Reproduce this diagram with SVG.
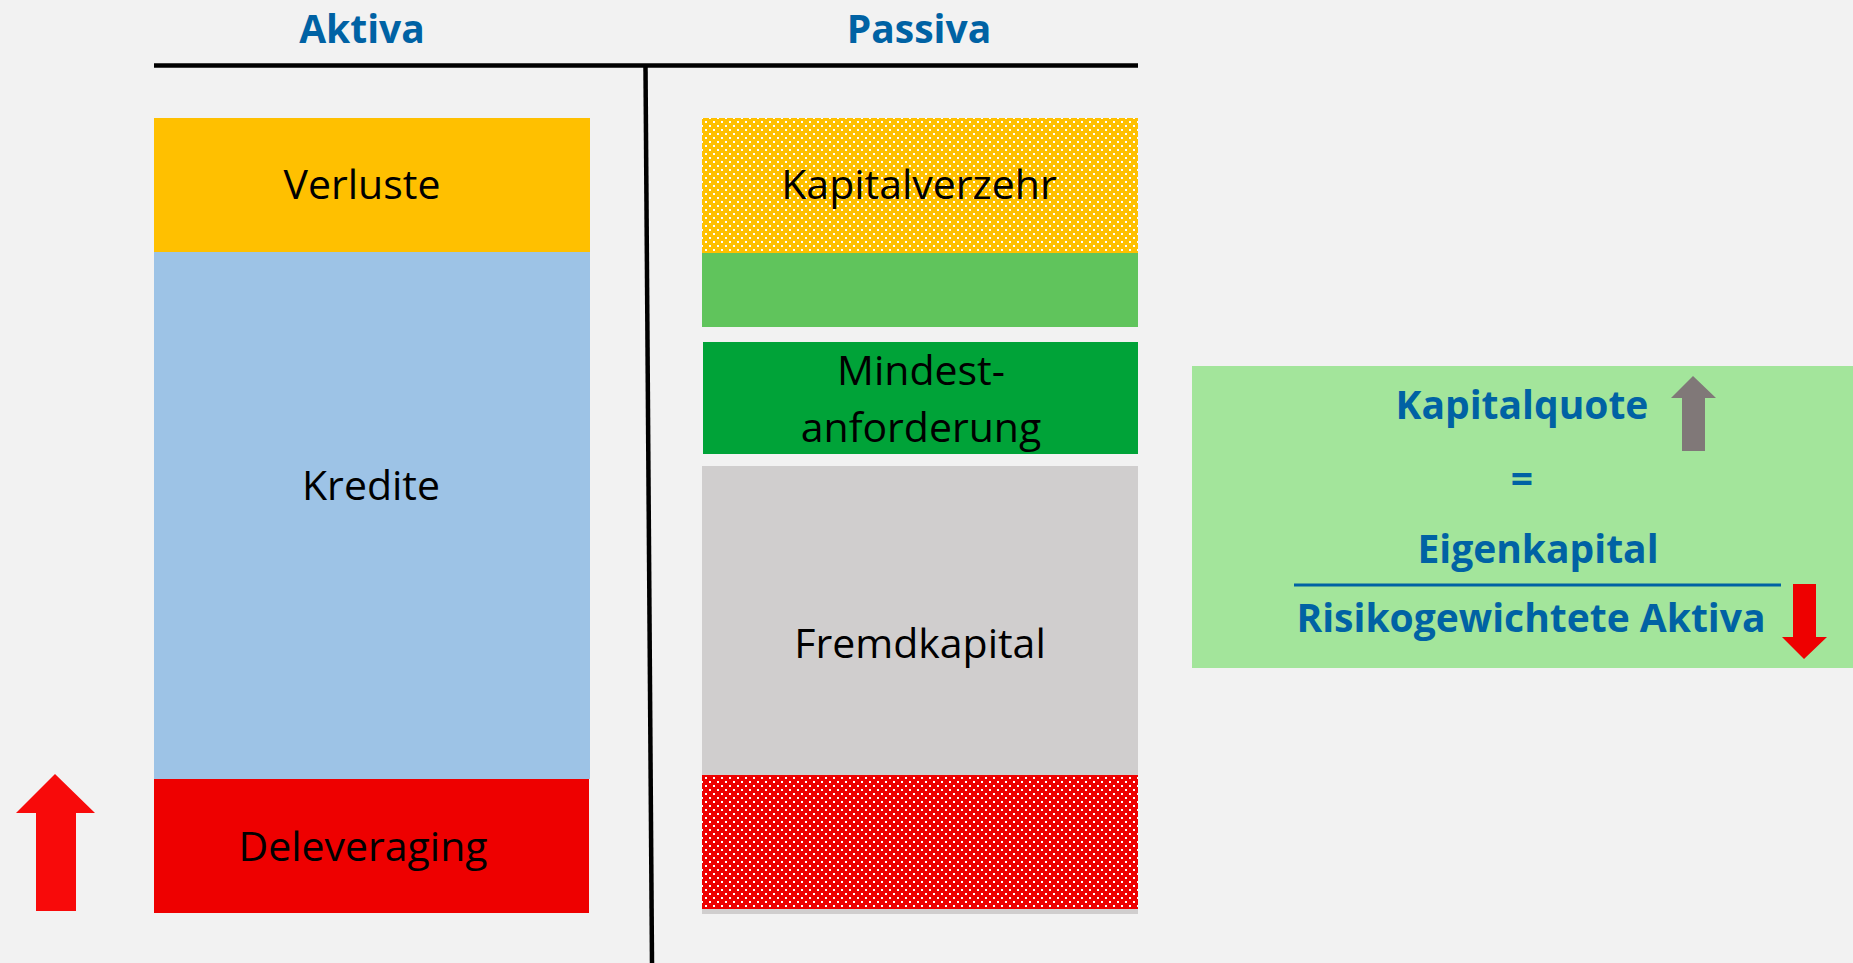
<svg xmlns="http://www.w3.org/2000/svg" width="1853" height="963" viewBox="0 0 1853 963">
<defs>
<style>
.lbl{font-family:"Open Sans","Liberation Sans",sans-serif;font-size:41px;fill:#000;text-anchor:middle}
.hd{font-family:"Open Sans","Liberation Sans",sans-serif;font-size:39px;font-weight:bold;fill:#0062A4;text-anchor:middle}
.fx{font-family:"Open Sans","Liberation Sans",sans-serif;font-size:39px;font-weight:bold;fill:#0062A4;text-anchor:middle}
</style>
<pattern id="dotY" patternUnits="userSpaceOnUse" width="8" height="8">
<rect width="8" height="8" fill="#FFC000"/>
<rect x="1" y="1" width="2" height="2" fill="#fff"/>
<rect x="5" y="5" width="2" height="2" fill="#fff"/>
</pattern>
<pattern id="dotR" patternUnits="userSpaceOnUse" width="8" height="8">
<rect width="8" height="8" fill="#EE0000"/>
<rect x="1" y="1" width="2" height="2" fill="#fff"/>
<rect x="5" y="5" width="2" height="2" fill="#fff"/>
</pattern>
</defs>
<rect width="1853" height="963" fill="#F2F2F2"/>

<g id="headers">
<text class="hd" x="362" y="43">Aktiva</text>
<text class="hd" x="919" y="43">Passiva</text>
</g>

<g id="connectors" stroke="#000" fill="none">
<line x1="154" y1="65.5" x2="1138" y2="65.5" stroke-width="4.5"/>
<line x1="645.5" y1="67" x2="652" y2="963" stroke-width="4.5"/>
</g>

<g id="aktiva">
<g id="verluste"><rect x="154" y="118" width="436" height="134" fill="#FFC000"/><text class="lbl" x="362" y="199">Verluste</text></g>
<g id="kredite"><rect x="154" y="252" width="436" height="527" fill="#9DC3E6"/><text class="lbl" x="371" y="500">Kredite</text></g>
<g id="deleveraging"><rect x="154" y="779" width="435" height="134" fill="#EE0000"/><text class="lbl" x="363" y="861">Deleveraging</text></g>
</g>

<g id="passiva">
<g id="kapitalverzehr"><rect x="702" y="118" width="436" height="135" fill="url(#dotY)"/><text class="lbl" x="919" y="199">Kapitalverzehr</text></g>
<g id="puffer"><rect x="702" y="253" width="436" height="74" fill="#60C45C"/></g>
<g id="mindest"><rect x="703" y="342" width="435" height="112" fill="#00A338"/><text class="lbl" x="921" y="385">Mindest-</text><text class="lbl" x="921" y="442">anforderung</text></g>
<g id="fremdkapital"><rect x="702" y="466" width="436" height="448" fill="#D0CECE"/><text class="lbl" x="920" y="658">Fremdkapital</text></g>
<g id="verlust-fk"><rect x="702" y="775" width="436" height="134" fill="url(#dotR)"/></g>
</g>

<g id="arrow-left"><polygon points="55,774 95,813 76,813 76,911 36,911 36,813 16,813" fill="#F80A0A"/></g>

<g id="formel">
<rect x="1192" y="366" width="661" height="302" fill="#A3E59B"/>
<text class="fx" x="1522" y="419">Kapitalquote</text>
<text class="fx" x="1522" y="493">=</text>
<text class="fx" x="1538" y="563">Eigenkapital</text>
<line x1="1294" y1="585" x2="1781" y2="585" stroke="#0062A4" stroke-width="3"/>
<text class="fx" x="1531" y="632">Risikogewichtete Aktiva</text>
<polygon points="1693,376 1716,398 1705,398 1705,451 1682,451 1682,398 1671,398" fill="#807878"/>
<polygon points="1793,584 1816,584 1816,637 1827,637 1804,659 1782,637 1793,637" fill="#EE0000"/>
</g>
</svg>
